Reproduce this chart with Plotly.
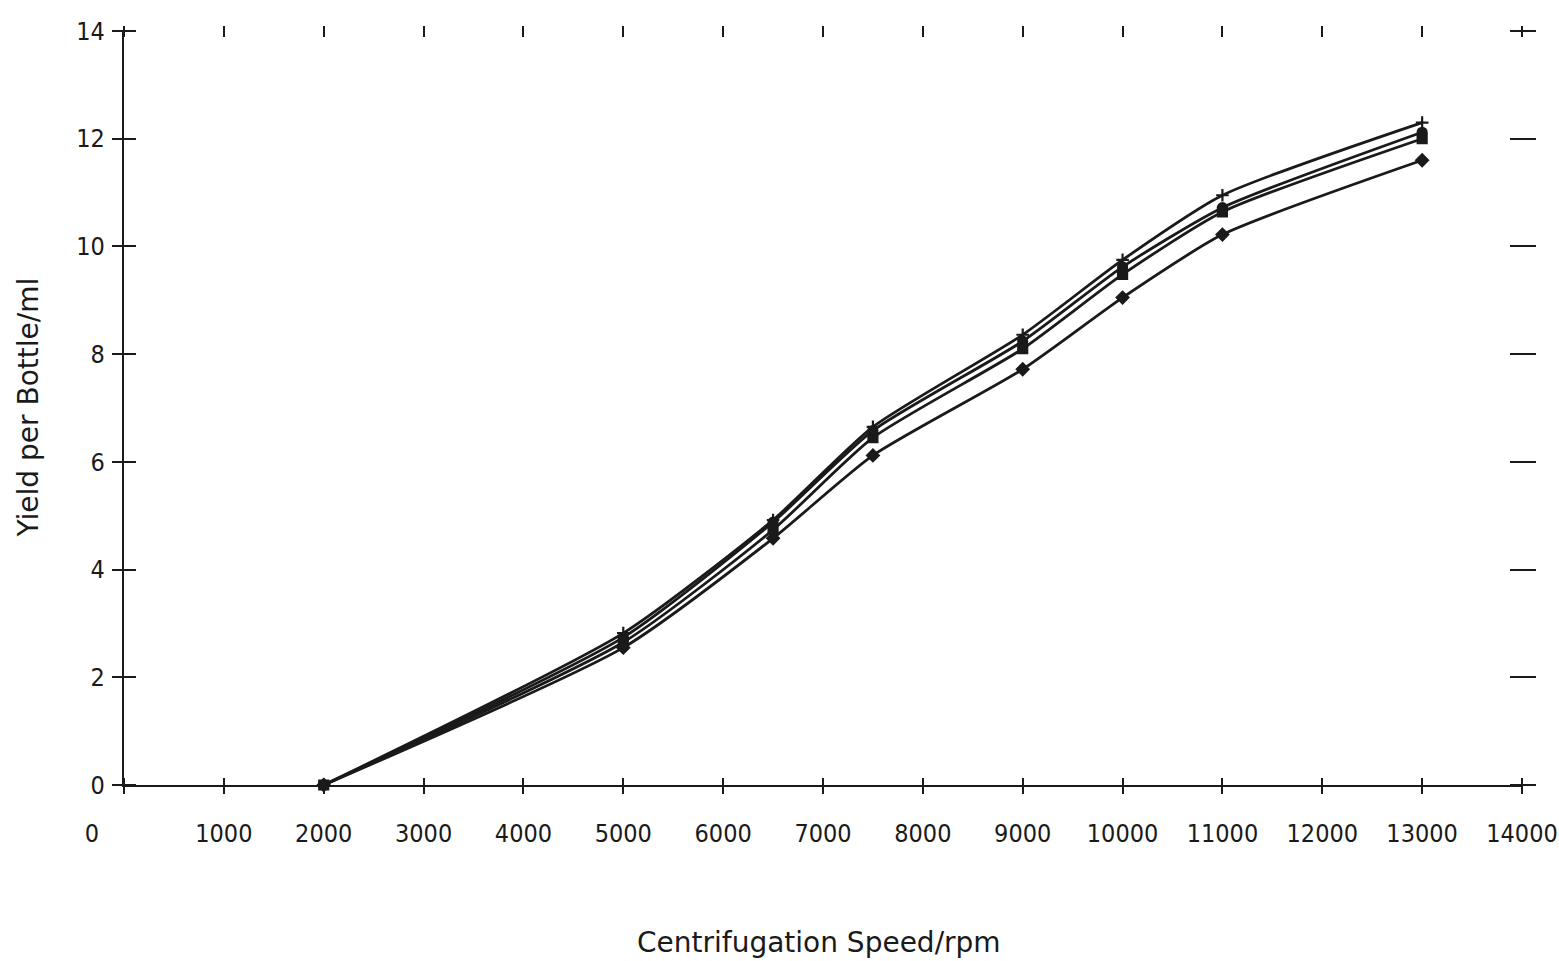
import plotly.graph_objects as go

# Centrifugation speed (rpm) at which each yield was measured
speed_rpm = [2000, 5000, 6500, 7500, 9000, 10000, 11000, 13000]

# Yield per bottle (ml) for the four runs
yield_run1 = [0.0, 2.82, 4.92, 6.65, 8.36, 9.75, 10.95, 12.30]
yield_run2 = [0.0, 2.74, 4.88, 6.58, 8.24, 9.62, 10.72, 12.12]
yield_run3 = [0.0, 2.65, 4.74, 6.45, 8.10, 9.48, 10.64, 12.00]
yield_run4 = [0.0, 2.55, 4.58, 6.12, 7.72, 9.05, 10.22, 11.60]

x_ticks = list(range(0, 14001, 1000))
x_tick_labels = [str(v) for v in x_ticks]
x_tick_labels[0] = "0" + "\u00a0" * 9  # the zero label sits left of the origin
y_ticks = list(range(0, 15, 2))

runs = [
    (yield_run1, "cross-thin"),
    (yield_run2, "circle"),
    (yield_run3, "square"),
    (yield_run4, "diamond"),
]

FONT = "DejaVu Sans Condensed, DejaVu Sans, sans-serif"
TITLE_FONT = "DejaVu Sans, sans-serif"
INK = "#1a1a1a"
X_RANGE = [0, 14000]
Y_RANGE = [0, 14]

fig = go.Figure()

for values, symbol in runs:
    fig.add_trace(go.Scatter(
        x=speed_rpm, y=values,
        mode="lines+markers",
        line=dict(color=INK, width=2.8, shape="spline", smoothing=0.6),
        marker=dict(symbol=symbol, size=9, color=INK, line=dict(color=INK, width=2.2)),
        showlegend=False, cliponaxis=False,
    ))

# empty traces so the tick-only axes get drawn
for xa, ya in [("x2", "y2"), ("x3", "y3")]:
    fig.add_trace(go.Scatter(x=[], y=[], xaxis=xa, yaxis=ya, showlegend=False))

tick_common = dict(tickcolor=INK, tickwidth=2.4, showgrid=False, zeroline=False,
                   automargin=False)
no_labels = dict(showticklabels=False, showline=False)

fig.update_layout(
    width=1559, height=961,
    margin=dict(l=124, r=37, t=31, b=176, autoexpand=False),
    paper_bgcolor="white", plot_bgcolor="white",
    font=dict(family=FONT, color=INK, size=25),
    # main axes with labels
    xaxis=dict(range=X_RANGE, tickvals=x_ticks, ticktext=x_tick_labels,
               ticks="", showline=True, linecolor=INK, linewidth=2.4,
               tickfont=dict(size=25), ticklabelstandoff=25, **tick_common),
    yaxis=dict(range=Y_RANGE, tickvals=y_ticks, ticks="",
               showline=True, linecolor=INK, linewidth=2.4,
               tickfont=dict(size=25), ticklabelstandoff=12, **tick_common),
    # ticks crossing the bottom axis
    xaxis2=dict(range=X_RANGE, tickvals=x_ticks, ticks="outside", ticklen=16,
                overlaying="x", anchor="free", position=8 / 754, side="bottom",
                **no_labels, **tick_common),
    # short marks along the top edge
    xaxis3=dict(range=X_RANGE, tickvals=x_ticks, ticks="outside", ticklen=11,
                overlaying="x", anchor="free", position=1 - 5.5 / 754, side="top",
                **no_labels, **tick_common),
    # ticks crossing the left axis
    yaxis2=dict(range=Y_RANGE, tickvals=y_ticks, ticks="outside", ticklen=24,
                overlaying="y", anchor="free", position=12 / 1398, side="left",
                **no_labels, **tick_common),
    # marks along the right edge
    yaxis3=dict(range=Y_RANGE, tickvals=y_ticks, ticks="outside", ticklen=26,
                overlaying="y", anchor="free", position=1 - 13 / 1398, side="right",
                **no_labels, **tick_common),
    annotations=[
        dict(text="Centrifugation Speed/rpm", xref="paper", yref="paper",
             x=0.497, y=-0.2095, xanchor="center", yanchor="middle",
             showarrow=False, font=dict(size=28, family=TITLE_FONT)),
        dict(text="Yield per Bottle/ml", xref="paper", yref="paper",
             x=-0.069, y=0.5, xanchor="center", yanchor="middle",
             textangle=-90, showarrow=False, font=dict(size=28, family=TITLE_FONT)),
    ],
)

fig.write_html("out.html")
